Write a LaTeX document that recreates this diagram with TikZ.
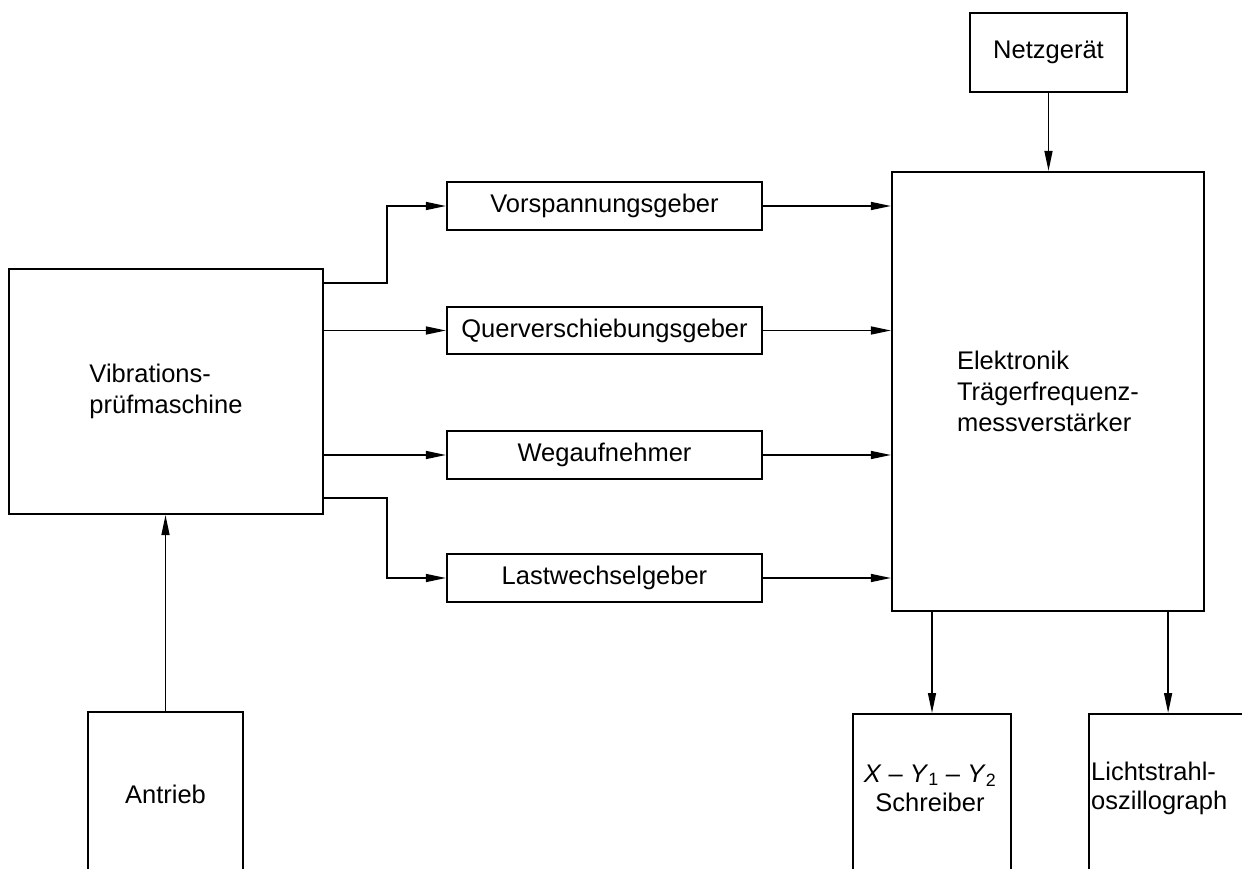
\documentclass[tikz,border=0pt]{standalone}
\usepackage{fontspec}
\setmainfont{Liberation Sans}
\usetikzlibrary{arrows.meta,calc}
\begin{document}
\begin{tikzpicture}[x=1pt,y=-1pt,
  box/.style={draw,line width=2.2pt,inner sep=0pt,align=left,font=\fontsize{25.5}{31}\selectfont},
  sbox/.style={box,minimum width=315pt,minimum height=48pt},
  lbl/.style={inner sep=0pt,font=\fontsize{25.5}{29}\selectfont},
  arr/.style={line width=1.4pt,-{Triangle[length=20pt,width=8pt]}}]
\clip (0,0) rectangle (1242,869);
% boxes
\node[box,minimum width=314pt,minimum height=245pt] (vib) at (166,391.5) {Vibrations-\\prüfmaschine};
\node[sbox] (vor) at (604.5,206) {Vorspannungsgeber};
\node[sbox,minimum height=47pt] (quer) at (604.5,330.5) {Querverschiebungsgeber};
\node[sbox] (weg) at (604.5,455) {Wegaufnehmer};
\node[sbox] (last) at (604.5,578) {Lastwechselgeber};
\node[box,minimum width=312pt,minimum height=439pt] (elek) at (1048,391.5) {Elektronik\\Trägerfrequenz-\\messverstärker};
\node[box,minimum width=157pt,minimum height=79pt] (netz) at (1048.5,52.5) {Netzgerät};
\node[box,minimum width=155pt,minimum height=164pt] (antrieb) at (165.5,794) {Antrieb};
\node[box,minimum width=158pt,minimum height=200pt,anchor=north] (xy) at (932,713) {};
\node[lbl,align=center] (xyt) at (930,788) {\textit{X} – \textit{Y}\textsubscript{1} – \textit{Y}\textsubscript{2}\\Schreiber};
\node[box,minimum width=158pt,minimum height=200pt,anchor=north west] (licht) at (1088,713) {};
\node[lbl,align=left,anchor=west] (lichtt) at (1091,788) {Lichtstrahl-\\oszillograph};
% connectors
\draw[arr] ([yshift=-15pt]vib.north east) -- ++(63,0) |- (vor.west);
\draw[arr] (vib.east |- quer.west) -- (quer.west);
\draw[arr] (vib.east |- weg.west) -- (weg.west);
\draw[arr] ([yshift=17pt]vib.south east) -- ++(63,0) |- (last.west);
\draw[arr] (vor.east) -- (elek.west |- vor.east);
\draw[arr] (quer.east) -- (elek.west |- quer.east);
\draw[arr] (weg.east) -- (elek.west |- weg.east);
\draw[arr] (last.east) -- (elek.west |- last.east);
\draw[arr] (netz.south) -- (elek.north -| netz.south);
\draw[arr] (antrieb.north) -- (vib.south -| antrieb.north);
\draw[arr] (elek.south -| xy.north) -- (xy.north);
\draw[arr] (elek.south -| licht.north) -- (licht.north);
\end{tikzpicture}
\end{document}
